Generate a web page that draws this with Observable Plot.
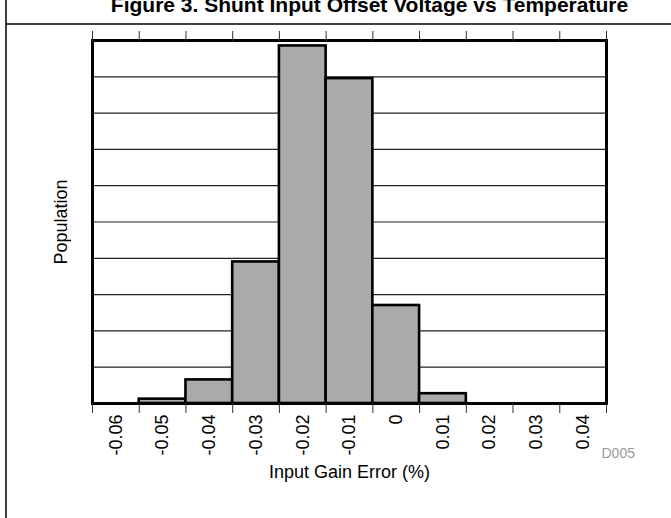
<!DOCTYPE html>
<html><head><meta charset="utf-8">
<script src="https://cdn.jsdelivr.net/npm/d3@7"></script>
<script src="https://cdn.jsdelivr.net/npm/@observablehq/plot@0.6"></script>
<style>body{margin:0;background:#fff;font-family:"Liberation Sans",Arial,sans-serif}</style>
</head><body><div id="chart"></div>
<script>
const binCenters = [-0.06, -0.05, -0.04, -0.03, -0.02, -0.01, 0, 0.01, 0.02, 0.03, 0.04];
const binLabels = ["-0.06", "-0.05", "-0.04", "-0.03", "-0.02", "-0.01", "0", "0.01", "0.02", "0.03", "0.04"];
const population = [0, 0.12, 0.65, 3.9, 9.85, 8.95, 2.7, 0.27, 0, 0, 0];
const binWidth = 0.01;
const yGridTicks = [0, 1, 2, 3, 4, 5, 6, 7, 8, 9, 10];
const title = "Figure 3. Shunt Input Offset Voltage vs Temperature";
const xLabel = "Input Gain Error (%)";
const yLabel = "Population";
const note = "D005";

const data = binCenters.map((c, i) => ({x1: c - binWidth / 2, x2: c + binWidth / 2, y: population[i]}));
const edges = [...binCenters.map(c => c - binWidth / 2), binCenters[binCenters.length - 1] + binWidth / 2];
const tickData = binCenters.map((c, i) => ({x: c, label: binLabels[i]}));

const chart = Plot.plot({
  width: 671, height: 518,
  marginLeft: 92, marginRight: 65, marginTop: 40, marginBottom: 115,
  style: {fontFamily: "'Liberation Sans', Arial, sans-serif", fontSize: "18px", background: "#fff", color: "#000"},
  x: {domain: [edges[0], edges[edges.length - 1]]},
  y: {domain: [0, 10], axis: null},
  marks: [
    Plot.gridY(yGridTicks, {stroke: "#222", strokeOpacity: 1, strokeWidth: 1.2}),
    Plot.rectY(data, {x1: "x1", x2: "x2", y: "y", fill: "#aaaaaa", stroke: "#000", strokeWidth: 2.6}),
    Plot.frame({stroke: "#000", strokeWidth: 3}),
    Plot.axisX(edges, {anchor: "bottom", tickSize: 10, tickFormat: () => "", label: null, stroke: "#333"}),
    Plot.axisX(edges, {anchor: "top", tickSize: 10, tickFormat: () => "", label: null, stroke: "#333"}),
    Plot.text(tickData, {x: "x", text: "label", frameAnchor: "bottom", dy: 11, rotate: -90, textAnchor: "end", lineAnchor: "middle", fontSize: 18, fill: "#000"}),
    Plot.text([xLabel], {frameAnchor: "bottom", dy: 69, lineAnchor: "middle", textAnchor: "middle", fontSize: 18, fill: "#000"}),
    Plot.text([yLabel], {frameAnchor: "left", dx: -31, rotate: -90, lineAnchor: "middle", textAnchor: "middle", fontSize: 18, fill: "#000"}),
    Plot.text([note], {frameAnchor: "bottom-right", dx: -5, dy: 50, textAnchor: "start", lineAnchor: "middle", fontSize: 14, fill: "#999"})
  ]
});

const svg = d3.select(chart);
svg.append("line").attr("x1", 6).attr("x2", 671).attr("y1", 24).attr("y2", 24).attr("stroke", "#000").attr("stroke-width", 1.5);
svg.append("line").attr("x1", 6).attr("x2", 6).attr("y1", 0).attr("y2", 518).attr("stroke", "#000").attr("stroke-width", 1.5);
svg.append("text").attr("x", 369.5).attr("y", 12).attr("text-anchor", "middle")
  .attr("font-weight", "bold").attr("font-size", 21).attr("fill", "#000").text(title);

document.getElementById("chart").appendChild(chart);
</script>
</body></html>
